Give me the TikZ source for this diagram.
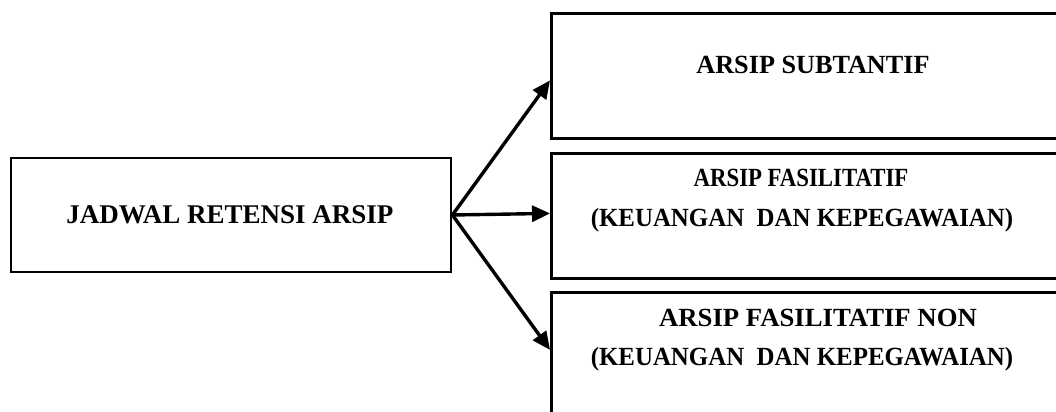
\documentclass[tikz,border=0pt]{standalone}
\usepackage{graphicx}
\usepackage{fontspec}
\setmainfont{Liberation Serif}
\usetikzlibrary{arrows.meta, positioning}

% squeeze a line of text sideways
\newcommand{\squeezed}[2]{\scalebox{#1}[1]{#2}}

\begin{document}
\begin{tikzpicture}[x=0.5pt, y=-0.5pt, >={Triangle[length=9pt, width=8pt]}]

    % ==========================================
    % STYLES
    % ==========================================
    \tikzset{
        box/.style={draw=black, line width=1.4pt, rectangle, inner sep=0pt},
        label/.style={font=\fontsize{13.1}{15}\selectfont\bfseries, inner sep=0pt},
        arr/.style={->, line width=1.7pt, black}
    }

    % Page frame (right boxes run off the page)
    \useasboundingbox (0,0) rectangle (1056,412);

    % ==========================================
    % LEFT: Main box
    % ==========================================
    \node[box, minimum width=220pt, minimum height=57pt] (jra) at (231, 215) {};
    \node[label, font=\fontsize{13.5}{15}\selectfont\bfseries] (jraText) at (230, 215) {JADWAL RETENSI ARSIP};

    % ==========================================
    % RIGHT: Three categories
    % ==========================================
    \node[box, minimum width=265pt, minimum height=62.5pt, anchor=north west] (sub) at (550, 12) {};
    \node[box, minimum width=265pt, minimum height=62.5pt, anchor=north west] (fas) at (550, 152) {};
    \node[box, minimum width=265pt, minimum height=62.5pt, anchor=north west] (non) at (550, 291) {};

    \node[label] (subText) at (813, 65) {ARSIP SUBTANTIF};

    \node[label] (fasText) at (801, 178) {\squeezed{0.87}{ARSIP FASILITATIF}};
    \node[label] (fasSub) at (802, 220) {\squeezed{0.95}{(KEUANGAN\ \ DAN KEPEGAWAIAN)}};

    \node[label] (nonText) at (818, 318) {\squeezed{1.02}{ARSIP FASILITATIF NON}};
    \node[label] (nonSub) at (802, 359) {\squeezed{0.95}{(KEUANGAN\ \ DAN KEPEGAWAIAN)}};

    % ==========================================
    % ARROWS
    % ==========================================
    \draw[arr] (jra.east) -- ([yshift=-2.25pt]sub.west);
    \draw[arr] (jra.east) -- ([yshift=1.25pt]fas.west);
    \draw[arr] (jra.east) -- ([yshift=2.5pt]non.west);

\end{tikzpicture}
\end{document}
